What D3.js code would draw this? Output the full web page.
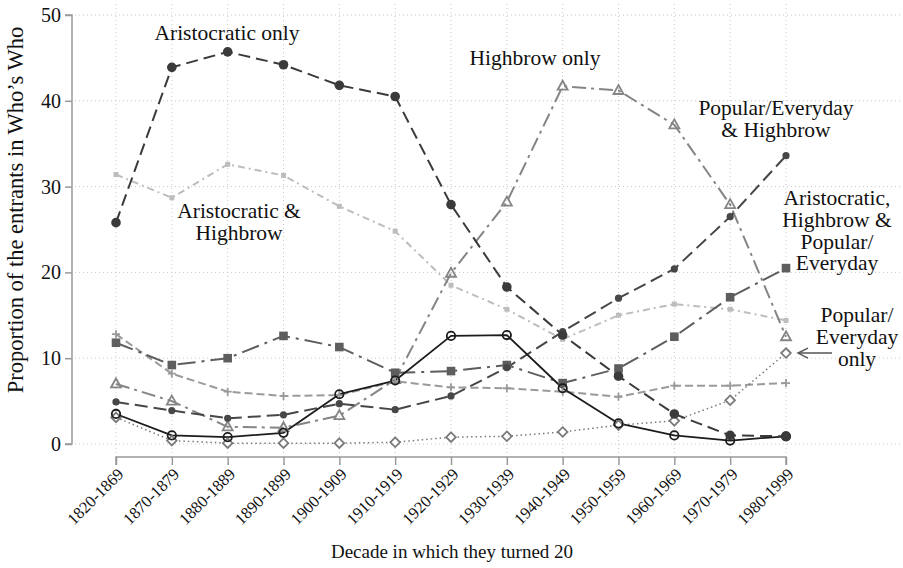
<!DOCTYPE html>
<html>
<head>
<meta charset="utf-8">
<script src="https://cdn.jsdelivr.net/npm/d3@7"></script>
<style>
  html, body { margin: 0; padding: 0; background: #fff; }
  svg { display: block; font-family: "Liberation Serif", "Times New Roman", serif; }
</style>
</head>
<body>
<svg id="chart" width="903" height="568"></svg>
<script>
const decades = ["1820-1869","1870-1879","1880-1889","1890-1899","1900-1909","1910-1919","1920-1929","1930-1939","1940-1949","1950-1959","1960-1969","1970-1979","1980-1999"];
const yTicks = [0, 10, 20, 30, 40, 50];

const aristocraticOnly   = [25.8, 43.9, 45.7, 44.2, 41.8, 40.5, 27.9, 18.3, 12.7, 7.9, 3.5, 1.0, 0.9];
const popHighbrow        = [4.9, 3.9, 3.0, 3.4, 4.7, 4.0, 5.6, 8.9, 13.1, 17.0, 20.4, 26.5, 33.6];
const highbrowOnly       = [7.0, 5.0, 2.0, 1.9, 3.3, 7.5, 19.9, 28.2, 41.7, 41.2, 37.2, 27.9, 12.5];
const aristoHighbrow     = [31.4, 28.7, 32.6, 31.3, 27.7, 24.8, 18.5, 15.7, 12.2, 15.0, 16.3, 15.7, 14.4];
const aristoHighPop      = [11.8, 9.2, 10.0, 12.6, 11.3, 8.3, 8.5, 9.2, 7.1, 8.8, 12.5, 17.1, 20.5];
const popularOnly        = [3.1, 0.4, 0.1, 0.1, 0.1, 0.2, 0.8, 0.9, 1.4, 2.2, 2.7, 5.1, 10.6];
const otherSolid         = [3.5, 1.0, 0.8, 1.3, 5.8, 7.4, 12.6, 12.7, 6.5, 2.4, 1.0, 0.4, 0.9];
const otherDashed        = [12.8, 8.2, 6.1, 5.6, 5.7, 7.3, 6.6, 6.5, 6.1, 5.5, 6.8, 6.8, 7.1];

const series = [
  { name: "Aristocratic & Highbrow", values: aristoHighbrow, color: "#bdbdbd", dash: "7,4,2,4", width: 2, marker: "smallsquare" },
  { name: "Other dashed", values: otherDashed, color: "#9a9a9a", dash: "8,4", width: 2, marker: "plus" },
  { name: "Popular/Everyday only", values: popularOnly, color: "#7a7a7a", dash: "1.5,3", width: 1.5, marker: "diamond" },
  { name: "Highbrow only", values: highbrowOnly, color: "#858585", dash: "14,5,3,5", width: 2, marker: "triangle" },
  { name: "Aristocratic, Highbrow & Popular/Everyday", values: aristoHighPop, color: "#5e5e5e", dash: "18,6,3,6", width: 2, marker: "square" },
  { name: "Popular/Everyday & Highbrow", values: popHighbrow, color: "#474747", dash: "13,6", width: 2, marker: "smallcircle" },
  { name: "Other solid", values: otherSolid, color: "#1c1c1c", dash: null, width: 1.8, marker: "hollowcircle" },
  { name: "Aristocratic only", values: aristocraticOnly, color: "#3a3a3a", dash: "12,6", width: 2, marker: "circle" }
];

const svg = d3.select("#chart");
const plotLeft = 72, plotRight = 900, plotTop = 4, plotBottom = 457;

const x = d3.scalePoint().domain(decades).range([116, 786]);
const y = d3.scaleLinear().domain([0, 50]).range([444, 15]);

// gridlines
const grid = svg.append("g");
grid.selectAll("line.h").data(yTicks).enter().append("line")
  .attr("x1", plotLeft + 3).attr("x2", plotRight)
  .attr("y1", d => y(d)).attr("y2", d => y(d))
  .attr("stroke", "#c8c8c8").attr("stroke-width", 1).attr("stroke-dasharray", "1,3");
grid.selectAll("line.v").data(decades).enter().append("line")
  .attr("x1", d => x(d)).attr("x2", d => x(d))
  .attr("y1", plotTop).attr("y2", plotBottom)
  .attr("stroke", "#c8c8c8").attr("stroke-width", 1).attr("stroke-dasharray", "1,3");

// y axis
const yAxis = svg.append("g").attr("transform", `translate(${plotLeft},0)`)
  .call(d3.axisLeft(y).tickValues(yTicks).tickSize(7).tickPadding(4));
yAxis.select(".domain").attr("stroke", "#9a9a9a").attr("stroke-width", 1.5)
  .attr("d", `M-7,${y(50)}H0V${y(0)}H-7`);
yAxis.selectAll(".tick line").attr("stroke", "#9a9a9a").attr("stroke-width", 1.5);
yAxis.selectAll(".tick text").attr("font-size", 20).attr("fill", "#111").attr("font-family", "Liberation Serif");

// x axis
const xAxis = svg.append("g").attr("transform", `translate(0,${plotBottom})`)
  .call(d3.axisBottom(x).tickSize(8).tickPadding(4));
xAxis.select(".domain").attr("stroke", "#9a9a9a").attr("stroke-width", 1.5)
  .attr("d", `M${x(decades[0])},8V0H${x(decades[decades.length-1])}V8`);
xAxis.selectAll(".tick line").attr("stroke", "#9a9a9a").attr("stroke-width", 1.5);
xAxis.selectAll(".tick text")
  .attr("font-size", 16.5).attr("fill", "#111").attr("font-family", "Liberation Serif")
  .attr("text-anchor", "end").attr("dy", "0.35em")
  .attr("transform", "translate(4,14) rotate(-45)")
  .attr("y", 0).attr("x", 0);

// lines
const line = d3.line().x((d, i) => x(decades[i])).y(d => y(d));
const lines = svg.append("g");
series.forEach(s => {
  lines.append("path").datum(s.values)
    .attr("d", line).attr("fill", "none")
    .attr("stroke", s.color).attr("stroke-width", s.width)
    .attr("stroke-dasharray", s.dash)
    .attr("stroke-linejoin", "round");
});

// markers
const mk = svg.append("g");
series.forEach(s => {
  const g = mk.append("g");
  s.values.forEach((v, i) => {
    const cx = x(decades[i]), cy = y(v);
    switch (s.marker) {
      case "circle":
        g.append("circle").attr("cx", cx).attr("cy", cy).attr("r", 4.8).attr("fill", s.color); break;
      case "smallcircle":
        g.append("circle").attr("cx", cx).attr("cy", cy).attr("r", 3.6).attr("fill", s.color); break;
      case "hollowcircle":
        g.append("circle").attr("cx", cx).attr("cy", cy).attr("r", 4.2).attr("fill", "none").attr("stroke", s.color).attr("stroke-width", 1.8); break;
      case "square":
        g.append("rect").attr("x", cx - 4.3).attr("y", cy - 4.3).attr("width", 8.6).attr("height", 8.6).attr("fill", s.color); break;
      case "smallsquare":
        g.append("rect").attr("x", cx - 2.5).attr("y", cy - 2.5).attr("width", 5).attr("height", 5).attr("fill", s.color); break;
      case "triangle":
        g.append("path").attr("d", `M${cx},${cy-5.5}L${cx+5},${cy+3.5}L${cx-5},${cy+3.5}Z`).attr("fill", "none").attr("stroke", s.color).attr("stroke-width", 1.8); break;
      case "diamond":
        g.append("path").attr("d", `M${cx},${cy-4.8}L${cx+4.8},${cy}L${cx},${cy+4.8}L${cx-4.8},${cy}Z`).attr("fill", "#fff").attr("stroke", s.color).attr("stroke-width", 1.8); break;
      case "plus":
        g.append("path").attr("d", `M${cx-4},${cy}H${cx+4}M${cx},${cy-4}V${cy+4}`).attr("stroke", s.color).attr("stroke-width", 1.8); break;
    }
  });
});

// annotations
const ann = svg.append("g").attr("font-size", 21.5).attr("fill", "#111").attr("text-anchor", "middle");
const labels = [
  { lines: ["Aristocratic only"], x: 227, y: 40 },
  { lines: ["Highbrow only"], x: 535, y: 65 },
  { lines: ["Popular/Everyday", "& Highbrow"], x: 776, y: 115 },
  { lines: ["Aristocratic &", "Highbrow"], x: 239, y: 218 },
  { lines: ["Aristocratic,", "Highbrow &", "Popular/", "Everyday"], x: 837, y: 205 },
  { lines: ["Popular/", "Everyday", "only"], x: 857, y: 322 }
];
labels.forEach(l => {
  const t = ann.append("text").attr("x", l.x).attr("y", l.y);
  l.lines.forEach((s, i) => t.append("tspan").attr("x", l.x).attr("dy", i === 0 ? 0 : 21.8).text(s));
});

// arrow
const ay = y(popularOnly[12]);
svg.append("line").attr("x1", 832).attr("x2", 799).attr("y1", ay).attr("y2", ay)
  .attr("stroke", "#555").attr("stroke-width", 1.5);
svg.append("path").attr("d", `M808,${ay - 5}L798,${ay}L808,${ay + 5}`)
  .attr("fill", "none").attr("stroke", "#555").attr("stroke-width", 1.5);

// axis titles
svg.append("text").attr("x", 452).attr("y", 558).attr("text-anchor", "middle")
  .attr("font-size", 19).attr("fill", "#111").text("Decade in which they turned 20");
svg.append("text").attr("transform", `translate(23,210) rotate(-90)`).attr("text-anchor", "middle")
  .attr("font-size", 22.5).attr("fill", "#111").text("Proportion of the entrants in Who’s Who");
</script>
</body>
</html>
